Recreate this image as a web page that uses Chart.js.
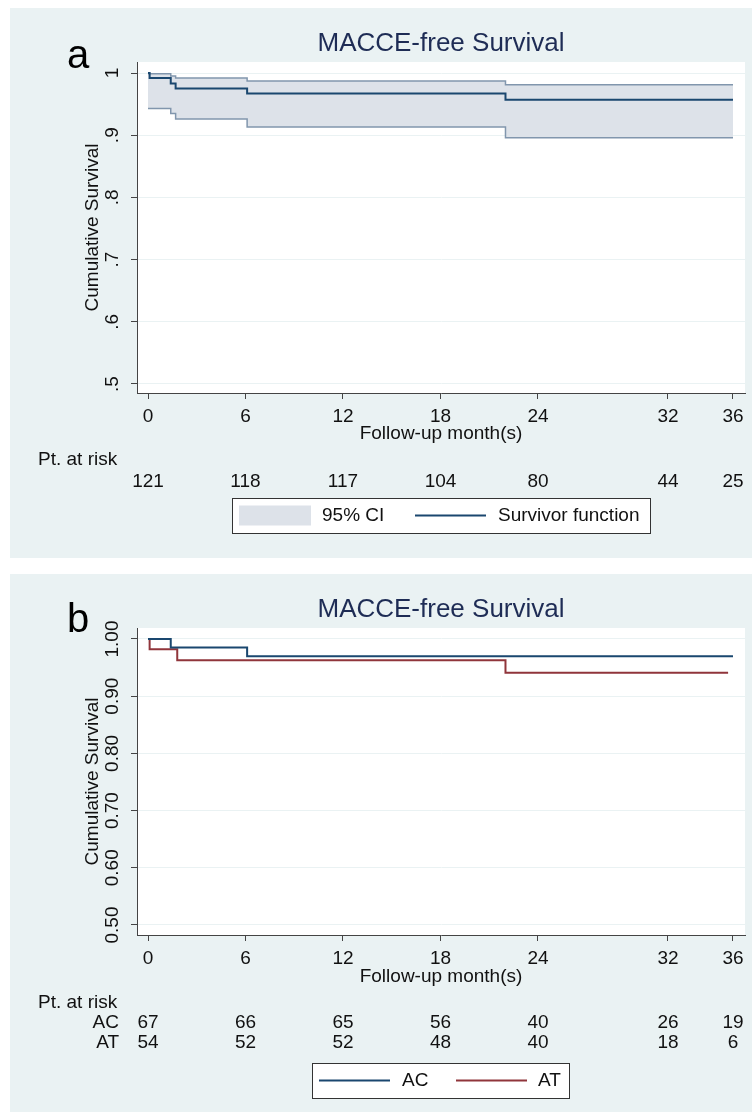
<!DOCTYPE html>
<html>
<head>
<meta charset="utf-8">
<script src="https://cdn.jsdelivr.net/npm/chart.js@4.4.1/dist/chart.umd.min.js"></script>
<style>
  body { margin: 0; background: #fff; width: 755px; height: 1118px; position: relative; }
  canvas { position: absolute; }
  #chartA { left: 10px; top: 8px; }
  #chartB { left: 10px; top: 574px; }
</style>
</head>
<body>
<canvas id="chartA" width="742" height="550"></canvas>
<canvas id="chartB" width="742" height="538"></canvas>
<script>
// axis ticks
const monthTicks = [0, 6, 12, 18, 24, 32, 36];
const yTicks = [0.5, 0.6, 0.7, 0.8, 0.9, 1.0];
const yLabelsA = [".5", ".6", ".7", ".8", ".9", "1"];
const yLabelsB = ["0.50", "0.60", "0.70", "0.80", "0.90", "1.00"];

// panel a: all patients
const survTime = [0, 0.1, 1.4, 1.7, 6.1, 22, 36];
const survValue = [1, 0.992, 0.983, 0.975, 0.967, 0.957, 0.957];
const ciTime = [0, 1.4, 1.7, 6.1, 22, 36];
const ciUpper = [0.999, 0.995, 0.992, 0.987, 0.981, 0.981];
const ciLower = [0.943, 0.935, 0.926, 0.913, 0.896, 0.896];
const riskAll = [121, 118, 117, 104, 80, 44, 25];

// panel b: AC vs AT
const acTime = [0, 1.4, 6.1, 36];
const acValue = [1, 0.985, 0.970, 0.970];
const atTime = [0, 0.1, 1.8, 22, 35.7];
const atValue = [1, 0.982, 0.963, 0.941, 0.941];
const riskAC = [67, 66, 65, 56, 40, 26, 19];
const riskAT = [54, 52, 52, 48, 40, 18, 6];

const FONT = '"Liberation Sans", Arial, sans-serif';
Chart.defaults.font.family = FONT;
Chart.defaults.color = '#111';

const PANEL_BG = '#eaf2f3';
const NAVY = '#1a476f';
const MAROON = '#90353b';
const CI_FILL = '#dde2e9';
const CI_EDGE = '#8196ad';

function pts(xs, ys) {
  return xs.map((x, i) => ({ x: x, y: ys[i] }));
}

function panelPlugin(cfg) {
  return {
    id: 'panel' + cfg.letter,
    beforeDraw(chart) {
      const { ctx, chartArea: a } = chart;
      ctx.save();
      ctx.fillStyle = PANEL_BG;
      ctx.fillRect(0, 0, chart.width, chart.height);
      ctx.fillStyle = '#fff';
      ctx.fillRect(a.left, a.top, a.right - a.left, a.bottom - a.top);
      ctx.restore();
    },
    afterDraw(chart) {
      const { ctx, chartArea: a } = chart;
      const xs = chart.scales.x;
      ctx.save();
      ctx.fillStyle = '#1e2c55';
      ctx.font = '26px ' + FONT;
      ctx.textAlign = 'center';
      ctx.textBaseline = 'middle';
      ctx.fillText('MACCE-free Survival', (a.left + a.right) / 2, 36);

      ctx.fillStyle = '#000';
      ctx.font = '40px ' + FONT;
      ctx.textAlign = 'left';
      ctx.textBaseline = 'alphabetic';
      ctx.fillText(cfg.letter, 57, cfg.letterY);

      // number at risk
      ctx.font = '19px ' + FONT;
      ctx.fillStyle = '#111';
      ctx.textBaseline = 'middle';
      ctx.fillText('Pt. at risk', 28, cfg.riskTitleY);
      cfg.riskRows.forEach(row => {
        if (row.name) {
          ctx.textAlign = 'right';
          ctx.fillText(row.name, 109, row.y);
        }
        ctx.textAlign = 'center';
        row.counts.forEach((n, i) => {
          ctx.fillText(String(n), xs.getPixelForValue(monthTicks[i]), row.y);
        });
      });

      // legend
      const b = cfg.legendBox;
      ctx.fillStyle = '#fff';
      ctx.fillRect(b.x, b.y, b.w, b.h);
      ctx.strokeStyle = '#333';
      ctx.lineWidth = 1;
      ctx.strokeRect(b.x + 0.5, b.y + 0.5, b.w, b.h);
      const cy = b.y + b.h / 2;
      cfg.legendItems.forEach(it => {
        const ds = chart.data.datasets[it.dataset];
        if (it.area) {
          ctx.fillStyle = ds.backgroundColor;
          ctx.fillRect(it.x, cy - 10, 72, 20);
        } else {
          ctx.strokeStyle = ds.borderColor;
          ctx.lineWidth = 2;
          ctx.beginPath();
          ctx.moveTo(it.x, cy);
          ctx.lineTo(it.x + 71, cy);
          ctx.stroke();
        }
        ctx.fillStyle = '#111';
        ctx.textAlign = 'left';
        ctx.fillText(ds.label, it.textX, cy);
      });
      ctx.restore();
    }
  };
}

function makeOptions(o) {
  return {
    responsive: false,
    animation: false,
    devicePixelRatio: 1,
    layout: { padding: { top: 54, right: 7, left: 0, bottom: 0 } },
    plugins: { legend: { display: false }, tooltip: { enabled: false } },
    elements: { point: { radius: 0 } },
    scales: {
      x: {
        type: 'linear',
        min: -0.677,
        max: 36.74,
        afterBuildTicks: s => { s.ticks = monthTicks.map(v => ({ value: v })); },
        afterFit: s => { s.height = o.xAxisH; },
        ticks: {
          autoSkip: false, maxRotation: 0, padding: 8, color: '#111',
          font: { size: 19, lineHeight: 1 },
          callback: v => String(v)
        },
        grid: { drawOnChartArea: false, tickLength: 6, tickColor: '#444' },
        border: { color: '#444', width: 1 },
        title: {
          display: true, text: 'Follow-up month(s)', color: '#111',
          font: { size: 19, lineHeight: 1 },
          padding: { top: 0, bottom: o.xTitlePad }
        }
      },
      y: {
        type: 'linear',
        min: o.yMin,
        max: o.yMax,
        afterBuildTicks: s => { s.ticks = yTicks.map(v => ({ value: v })); },
        afterFit: s => { s.width = 127; },
        ticks: {
          autoSkip: false, minRotation: 90, maxRotation: 90, crossAlign: 'center',
          padding: o.yPad, color: '#111',
          font: { size: 19, lineHeight: 1 },
          callback: (v, i) => o.yLabels[i]
        },
        grid: { color: PANEL_BG, lineWidth: 1, tickLength: 6, tickColor: '#444' },
        border: { color: '#444', width: 1 },
        title: {
          display: true, text: 'Cumulative Survival', color: '#111',
          font: { size: 19, lineHeight: 1 },
          padding: { top: 73.5, bottom: 0 }
        }
      }
    }
  };
}

new Chart(document.getElementById('chartA'), {
  type: 'line',
  data: {
    datasets: [
      {
        label: 'Survivor function',
        data: pts(survTime, survValue),
        borderColor: NAVY, borderWidth: 2, stepped: true, fill: false
      },
      {
        label: 'upper',
        data: pts(ciTime, ciUpper),
        borderColor: CI_EDGE, borderWidth: 1.5, stepped: true, fill: false
      },
      {
        label: '95% CI',
        data: pts(ciTime, ciLower),
        borderColor: CI_EDGE, borderWidth: 1.5, stepped: true,
        fill: '-1', backgroundColor: CI_FILL
      }
    ]
  },
  options: makeOptions({
    yMin: 0.4855, yMax: 1.0177, yLabels: yLabelsA, yPad: 10,
    xAxisH: 165, xTitlePad: 114.5
  }),
  plugins: [panelPlugin({
    letter: 'a', letterY: 60, riskTitleY: 452,
    riskRows: [{ name: '', y: 474, counts: riskAll }],
    legendBox: { x: 222, y: 490, w: 418, h: 35 },
    legendItems: [
      { dataset: 2, area: true, x: 229, textX: 312 },
      { dataset: 0, x: 405, textX: 488 }
    ]
  })]
});

new Chart(document.getElementById('chartB'), {
  type: 'line',
  data: {
    datasets: [
      {
        label: 'AC',
        data: pts(acTime, acValue),
        borderColor: NAVY, borderWidth: 2, stepped: true, fill: false
      },
      {
        label: 'AT',
        data: pts(atTime, atValue),
        borderColor: MAROON, borderWidth: 2, stepped: true, fill: false
      }
    ]
  },
  options: makeOptions({
    yMin: 0.4825, yMax: 1.0192, yLabels: yLabelsB, yPad: 0,
    xAxisH: 177, xTitlePad: 125.5
  }),
  plugins: [panelPlugin({
    letter: 'b', letterY: 58, riskTitleY: 429,
    riskRows: [
      { name: 'AC', y: 449, counts: riskAC },
      { name: 'AT', y: 469, counts: riskAT }
    ],
    legendBox: { x: 302, y: 489, w: 257, h: 35 },
    legendItems: [
      { dataset: 0, x: 309, textX: 392 },
      { dataset: 1, x: 446, textX: 528 }
    ]
  })]
});
</script>
</body>
</html>
